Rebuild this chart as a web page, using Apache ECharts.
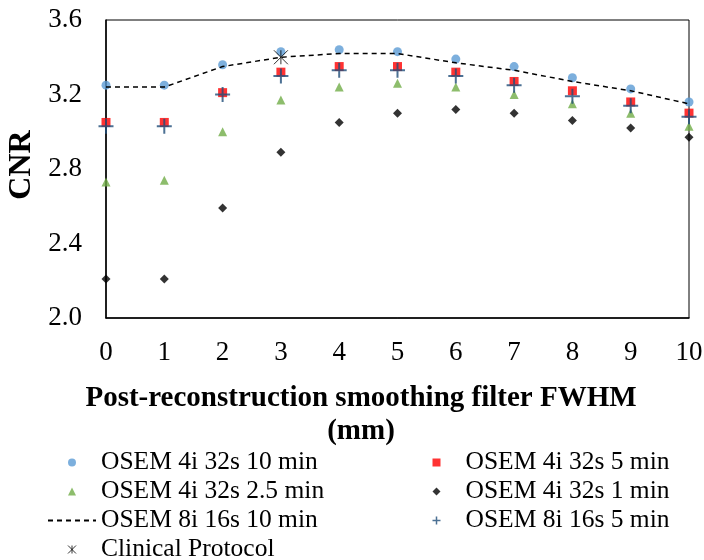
<!DOCTYPE html>
<html>
<head>
<meta charset="utf-8">
<script src="https://cdn.jsdelivr.net/npm/echarts@6/dist/echarts.min.js"></script>
<style>
  html, body { margin: 0; background: #fff; }
  #main { width: 704px; height: 560px; }
</style>
</head>
<body>
<div id="main"></div>
<script>
// filter FWHM (mm)
var fwhm = [0, 1, 2, 3, 4, 5, 6, 7, 8, 9, 10]
// CNR values
var osem4i32s10 = [3.25, 3.25, 3.36, 3.43, 3.44, 3.43, 3.39, 3.35, 3.29, 3.23, 3.16]
var osem4i32s5 = [3.05, 3.05, 3.21, 3.32, 3.35, 3.35, 3.32, 3.27, 3.22, 3.16, 3.10]
var osem4i32s25 = [2.73, 2.74, 3.00, 3.17, 3.24, 3.26, 3.24, 3.20, 3.15, 3.10, 3.03]
var osem4i32s1 = [2.21, 2.21, 2.59, 2.89, 3.05, 3.10, 3.12, 3.10, 3.06, 3.02, 2.97]
var osem8i16s10 = [3.24, 3.24, 3.35, 3.40, 3.42, 3.42, 3.37, 3.33, 3.27, 3.22, 3.15]
var osem8i16s5 = [3.03, 3.03, 3.20, 3.30, 3.33, 3.33, 3.30, 3.25, 3.19, 3.14, 3.08]
var clinicalX = [3]
var clinicalY = [3.40]

var font = '"Liberation Serif", "Times New Roman", serif'

var plusPath = 'path://M5,0L5,10M0,5L10,5'
var starPath = 'path://M0,0L10,10M10,0L0,10M5,0L5,10'

function pairs (xs, ys) {
  return xs.map(function (x, i) { return [x, ys[i]] })
}

// legend icons as paths so they keep their shape in a wide icon box
var legendText = { fontFamily: font, fontSize: 25.5, color: '#000', lineHeight: 29 }
var legendBase = {
  orient: 'vertical', top: 448, height: 130, padding: 0,
  itemWidth: 48, itemHeight: 8, itemGap: 0,
  symbolKeepAspect: true,
  selectedMode: false,
  textStyle: legendText
}

var chart = echarts.init(document.getElementById('main'))
chart.setOption({
  animation: false,
  grid: {
    left: 106, right: 15, top: 20, bottom: 242,
    outerBoundsMode: 'none',
    show: true, borderColor: '#000', borderWidth: 1
  },
  xAxis: {
    type: 'value',
    min: 0, max: 10, interval: 1,
    axisLine: { show: true, lineStyle: { color: '#000', width: 1.5 } },
    axisTick: { show: false },
    splitLine: { show: false },
    axisLabel: { color: '#000', fontFamily: font, fontSize: 27, margin: 21 }
  },
  yAxis: {
    type: 'value',
    min: 2.0, max: 3.6, interval: 0.4,
    name: 'CNR',
    nameLocation: 'middle',
    nameRotate: 90,
    nameGap: 68,
    nameTextStyle: { color: '#000', fontFamily: font, fontSize: 32, fontWeight: 'bold', padding: [0, 0, 0, 8] },
    axisLine: { show: true, lineStyle: { color: '#000', width: 1.5 } },
    axisTick: { show: false },
    splitLine: { show: false },
    axisLabel: {
      color: '#000', fontFamily: font, fontSize: 27, margin: 24,
      formatter: function (v) { return v.toFixed(1) }
    }
  },
  graphic: [{
    type: 'text',
    x: 361, y: 382,
    style: {
      text: 'Post-reconstruction smoothing filter FWHM\n(mm)',
      align: 'center',
      verticalAlign: 'top',
      fontFamily: font, fontSize: 29, fontWeight: 'bold',
      lineHeight: 33, fill: '#000'
    }
  }],
  legend: [
    Object.assign({}, legendBase, {
      left: 47,
      data: [
        { name: 'OSEM 4i 32s 10 min', icon: 'path://M5,0A5,5,0,1,1,4.99,0Z' },
        { name: 'OSEM 4i 32s 2.5 min', icon: 'path://M5,0L10,10L0,10Z' },
        { name: 'OSEM 8i 16s 10 min', itemStyle: { color: 'rgba(0,0,0,0)', borderWidth: 0 } },
        { name: 'Clinical Protocol', icon: starPath, itemStyle: { borderWidth: 1 } }
      ]
    }),
    Object.assign({}, legendBase, {
      left: 430,
      data: [
        { name: 'OSEM 4i 32s 5 min', icon: 'path://M0,0H10V10H0Z' },
        { name: 'OSEM 4i 32s 1 min', icon: 'path://M5,0L10,5L5,10L0,5Z' },
        { name: 'OSEM 8i 16s 5 min', icon: plusPath, itemStyle: { borderWidth: 1.5 } }
      ]
    })
  ],
  series: [
    {
      name: 'OSEM 4i 32s 10 min', type: 'scatter',
      symbol: 'circle', symbolSize: 9,
      itemStyle: { color: '#5B9BD5' },
      data: pairs(fwhm, osem4i32s10)
    },
    {
      name: 'OSEM 4i 32s 5 min', type: 'scatter',
      symbol: 'rect', symbolSize: 9,
      itemStyle: { color: '#FF0000' },
      data: pairs(fwhm, osem4i32s5)
    },
    {
      name: 'OSEM 4i 32s 2.5 min', type: 'scatter',
      symbol: 'triangle', symbolSize: 9,
      itemStyle: { color: '#70AD47' },
      data: pairs(fwhm, osem4i32s25)
    },
    {
      name: 'OSEM 4i 32s 1 min', type: 'scatter',
      symbol: 'diamond', symbolSize: 9,
      itemStyle: { color: '#000' },
      data: pairs(fwhm, osem4i32s1)
    },
    {
      name: 'OSEM 8i 16s 10 min', type: 'line',
      symbol: 'none',
      lineStyle: { color: '#000', width: 1.5, type: [5, 4] },
      itemStyle: { color: '#000' },
      data: pairs(fwhm, osem8i16s10)
    },
    {
      name: 'OSEM 8i 16s 5 min', type: 'scatter',
      symbol: plusPath, symbolSize: 15,
      itemStyle: { color: 'none', borderColor: '#1F4E79', borderWidth: 2 },
      data: pairs(fwhm, osem8i16s5)
    },
    {
      name: 'Clinical Protocol', type: 'scatter',
      symbol: starPath, symbolSize: 14,
      itemStyle: { color: 'none', borderColor: '#000', borderWidth: 1 },
      data: pairs(clinicalX, clinicalY)
    }
  ]
})
</script>
</body>
</html>
